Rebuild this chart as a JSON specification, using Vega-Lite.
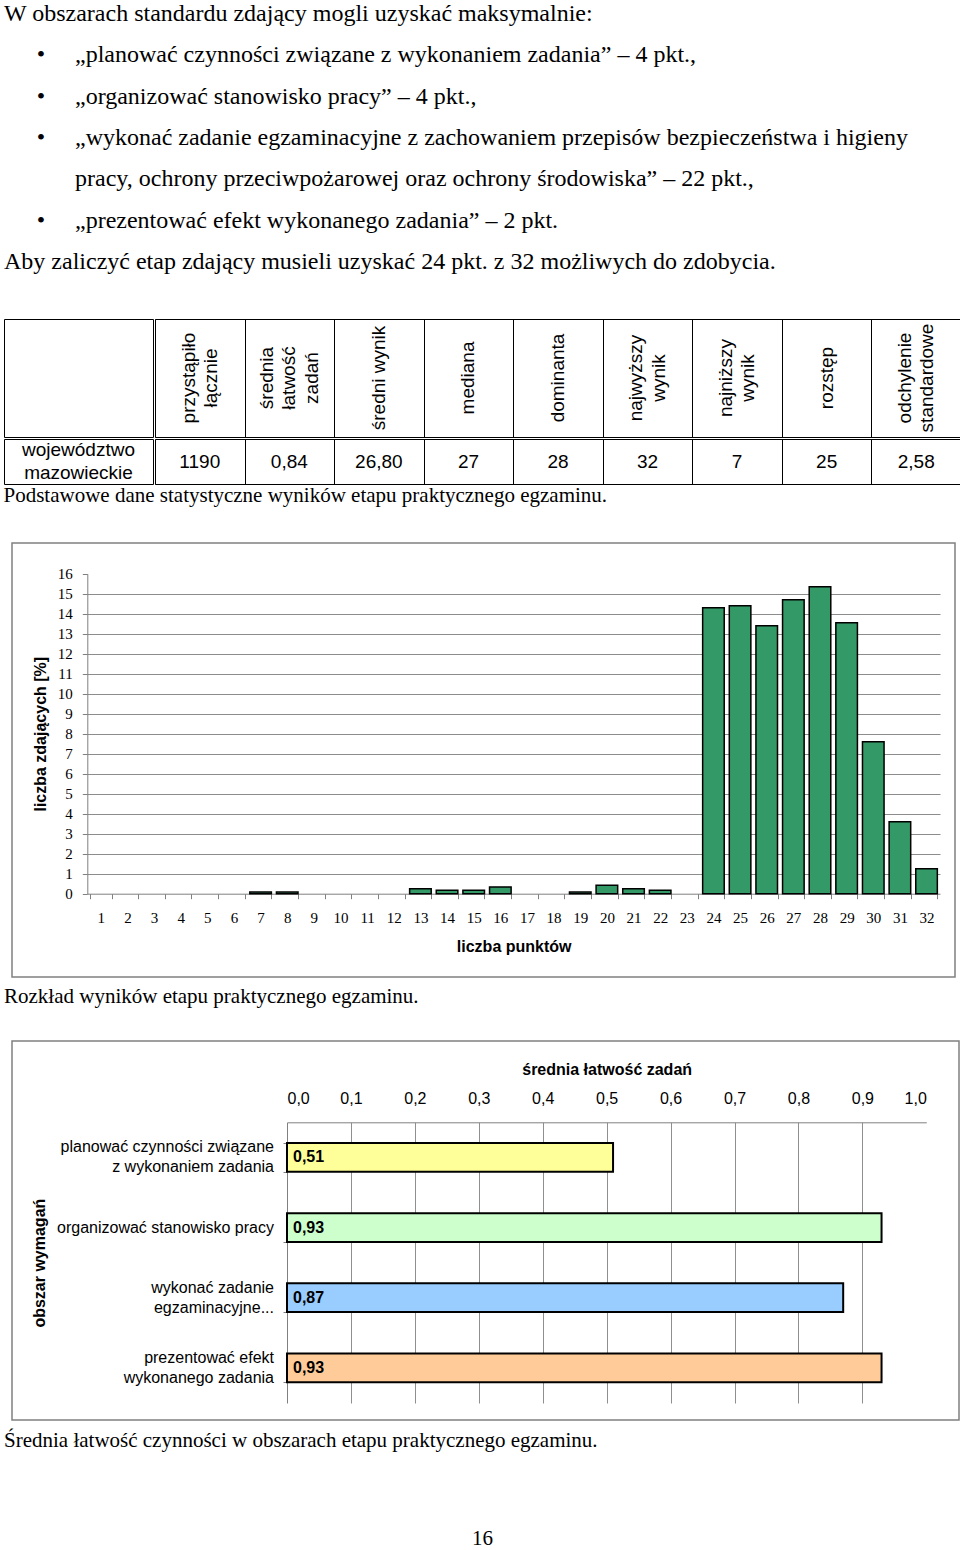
{
  "$schema": "https://vega.github.io/schema/vega-lite/v6.json",
  "padding": {"left": 3, "top": 0, "right": 0, "bottom": 0},
  "background": "white",
  "spacing": 36,
  "title": {"text": "16", "orient": "bottom", "anchor": "middle", "offset": 77, "font": "Liberation Serif", "fontSize": 21, "fontWeight": "normal", "color": "black"},
  "datasets": {
    "intro": [
      {"line": 1, "level": 0, "bullet": false, "text": "W obszarach standardu zdający mogli uzyskać maksymalnie:"},
      {"line": 2, "level": 1, "bullet": true, "text": "„planować czynności związane z wykonaniem zadania” – 4 pkt.,"},
      {"line": 3, "level": 1, "bullet": true, "text": "„organizować stanowisko pracy” – 4 pkt.,"},
      {"line": 4, "level": 1, "bullet": true, "text": "„wykonać zadanie egzaminacyjne z zachowaniem przepisów bezpieczeństwa i higieny"},
      {"line": 5, "level": 1, "bullet": false, "text": "pracy, ochrony przeciwpożarowej oraz ochrony środowiska” – 22 pkt.,"},
      {"line": 6, "level": 1, "bullet": true, "text": "„prezentować efekt wykonanego zadania” – 2 pkt."},
      {"line": 7, "level": 0, "bullet": false, "text": "Aby zaliczyć etap zdający musieli uzyskać 24 pkt. z 32 możliwych do zdobycia."}
    ],
    "region": [{"region": "województwo\nmazowieckie"}],
    "stats": [
      {"stat": "przystąpiło\nłącznie", "value": "1190"},
      {"stat": "średnia\nłatwość\nzadań", "value": "0,84"},
      {"stat": "średni wynik", "value": "26,80"},
      {"stat": "mediana", "value": "27"},
      {"stat": "dominanta", "value": "28"},
      {"stat": "najwyższy\nwynik", "value": "32"},
      {"stat": "najniższy\nwynik", "value": "7"},
      {"stat": "rozstęp", "value": "25"},
      {"stat": "odchylenie\nstandardowe", "value": "2,58"}
    ],
    "hist": [
      {"score": 1, "pct": 0}, {"score": 2, "pct": 0}, {"score": 3, "pct": 0}, {"score": 4, "pct": 0},
      {"score": 5, "pct": 0}, {"score": 6, "pct": 0}, {"score": 7, "pct": 0.08}, {"score": 8, "pct": 0.08},
      {"score": 9, "pct": 0}, {"score": 10, "pct": 0}, {"score": 11, "pct": 0}, {"score": 12, "pct": 0},
      {"score": 13, "pct": 0.25}, {"score": 14, "pct": 0.17}, {"score": 15, "pct": 0.17}, {"score": 16, "pct": 0.34},
      {"score": 17, "pct": 0}, {"score": 18, "pct": 0}, {"score": 19, "pct": 0.08}, {"score": 20, "pct": 0.42},
      {"score": 21, "pct": 0.25}, {"score": 22, "pct": 0.17}, {"score": 23, "pct": 0}, {"score": 24, "pct": 14.3},
      {"score": 25, "pct": 14.4}, {"score": 26, "pct": 13.4}, {"score": 27, "pct": 14.7}, {"score": 28, "pct": 15.35},
      {"score": 29, "pct": 13.55}, {"score": 30, "pct": 7.6}, {"score": 31, "pct": 3.6}, {"score": 32, "pct": 1.25}
    ],
    "areas": [
      {"area": "planować czynności związane\nz wykonaniem zadania", "value": 0.51},
      {"area": "organizować stanowisko pracy", "value": 0.93},
      {"area": "wykonać zadanie\negzaminacyjne...", "value": 0.87},
      {"area": "prezentować efekt\nwykonanego zadania", "value": 0.93}
    ]
  },
  "vconcat": [
    {
      "width": 957,
      "height": 282,
      "data": {"name": "intro"},
      "encoding": {
        "x": {"field": "level", "type": "quantitative", "scale": {"domain": [0, 1], "range": [0, 71]}, "axis": null},
        "y": {"field": "line", "type": "ordinal", "scale": {"type": "point", "padding": 0.411, "align": 0.41}, "axis": null}
      },
      "layer": [
        {
          "mark": {"type": "text", "align": "left", "baseline": "middle", "font": "Liberation Serif", "fontSize": 24, "color": "black"},
          "encoding": {"text": {"field": "text"}}
        },
        {
          "transform": [{"filter": "datum.bullet"}],
          "mark": {"type": "text", "text": "•", "align": "center", "baseline": "middle", "dx": -34, "font": "Liberation Serif", "fontSize": 24, "color": "black"}
        }
      ]
    },
    {
      "columns": 2,
      "spacing": 0,
      "title": {"text": "Podstawowe dane statystyczne wyników etapu praktycznego egzaminu.", "orient": "bottom", "anchor": "start", "offset": 0, "font": "Liberation Serif", "fontSize": 21, "fontWeight": "normal", "color": "black"},
      "concat": [
        {
          "width": 149, "height": 118,
          "view": {"stroke": "black", "strokeWidth": 1},
          "data": {"name": "region"},
          "mark": {"type": "text", "text": ""}
        },
        {
          "width": 806, "height": 118,
          "view": {"stroke": "black", "strokeWidth": 1},
          "data": {"name": "stats"},
          "transform": [{"calculate": "length(split(datum.stat, '\\n'))", "as": "lines"}],
          "encoding": {
            "x": {"field": "stat", "type": "nominal",
                  "sort": ["przystąpiło\nłącznie", "średnia\nłatwość\nzadań", "średni wynik", "mediana", "dominanta", "najwyższy\nwynik", "najniższy\nwynik", "rozstęp", "odchylenie\nstandardowe"],
                  "scale": {"paddingInner": 0, "paddingOuter": 0},
                  "axis": {"title": null, "labels": false, "ticks": false, "domain": false, "grid": true, "tickBand": "extent", "gridColor": "black", "gridOpacity": 1, "gridWidth": 1}},
            "text": {"field": "stat"}
          },
          "layer": [
            {
              "transform": [{"filter": "datum.lines === 1"}],
              "mark": {"type": "text", "angle": 270, "align": "center", "baseline": "middle", "fontSize": 19, "lineHeight": 22.5, "color": "black"}
            },
            {
              "transform": [{"filter": "datum.lines === 2"}],
              "mark": {"type": "text", "angle": 270, "align": "center", "baseline": "middle", "dy": -11.25, "fontSize": 19, "lineHeight": 22.5, "color": "black"}
            },
            {
              "transform": [{"filter": "datum.lines === 3"}],
              "mark": {"type": "text", "angle": 270, "align": "center", "baseline": "middle", "dy": -22.5, "fontSize": 19, "lineHeight": 22.5, "color": "black"}
            }
          ]
        },
        {
          "width": 149, "height": 45,
          "view": {"stroke": "black", "strokeWidth": 1},
          "data": {"name": "region"},
          "mark": {"type": "text", "align": "center", "baseline": "middle", "dy": -11.5, "fontSize": 19, "lineHeight": 23, "color": "black"},
          "encoding": {"text": {"field": "region"}}
        },
        {
          "width": 806, "height": 45,
          "view": {"stroke": "black", "strokeWidth": 1},
          "data": {"name": "stats"},
          "mark": {"type": "text", "align": "center", "baseline": "middle", "fontSize": 19, "color": "black"},
          "encoding": {
            "x": {"field": "stat", "type": "nominal",
                  "sort": ["przystąpiło\nłącznie", "średnia\nłatwość\nzadań", "średni wynik", "mediana", "dominanta", "najwyższy\nwynik", "najniższy\nwynik", "rozstęp", "odchylenie\nstandardowe"],
                  "scale": {"paddingInner": 0, "paddingOuter": 0},
                  "axis": {"title": null, "labels": false, "ticks": false, "domain": false, "grid": true, "tickBand": "extent", "gridColor": "black", "gridOpacity": 1, "gridWidth": 1}},
            "text": {"field": "value"}
          }
        }
      ]
    },
    {
      "spacing": 33,
      "vconcat": [
        {
          "spacing": 0,
          "title": {"text": "Rozkład wyników etapu praktycznego egzaminu.", "orient": "bottom", "anchor": "start", "offset": 8, "font": "Liberation Serif", "fontSize": 21, "fontWeight": "normal", "color": "black"},
          "hconcat": [
            {"width": 7, "height": 10, "data": {"values": [{"s": 1}]}, "mark": {"type": "text", "text": ""}},
            {
              "width": 943, "height": 434,
              "view": {"stroke": "#808080", "strokeWidth": 1.5},
              "data": {"name": "hist"},
              "mark": {"type": "bar", "fill": "#339966", "stroke": "black", "strokeWidth": 1.5},
              "encoding": {
                "x": {"field": "score", "type": "ordinal",
                      "scale": {"range": [75.3, 928], "paddingInner": 0.19, "paddingOuter": 0.1},
                      "axis": {"orient": "bottom", "offset": -83.3, "labelAngle": 0, "labelFont": "Liberation Serif", "labelFontSize": 15, "labelPadding": 12, "tickSize": 5, "tickBand": "extent", "grid": false,
                               "title": "liczba punktów", "titleFont": "Liberation Sans", "titleFontSize": 16, "titleFontWeight": "bold", "titlePadding": 13}},
                "y": {"field": "pct", "type": "quantitative",
                      "scale": {"domain": [0, 16], "range": [350.7, 30.7], "nice": false},
                      "axis": {"orient": "left", "offset": -75.3, "values": [0, 1, 2, 3, 4, 5, 6, 7, 8, 9, 10, 11, 12, 13, 14, 15, 16], "labelFont": "Liberation Serif", "labelFontSize": 15, "labelPadding": 10, "tickSize": 5,
                               "title": "liczba zdających [%]", "titleFont": "Liberation Sans", "titleFontSize": 16, "titleFontWeight": "bold", "titlePadding": 9,
                               "grid": true, "gridColor": "#8c8c8c", "gridOpacity": {"condition": {"test": "datum.value === 0 || datum.value === 16", "value": 0}, "value": 1}}},
                "strokeOpacity": {"condition": {"test": "datum.pct === 0", "value": 0}, "value": 1}
              }
            }
          ]
        },
        {
          "spacing": 0,
          "title": {"text": "Średnia łatwość czynności w obszarach etapu praktycznego egzaminu.", "orient": "bottom", "anchor": "start", "offset": 9, "font": "Liberation Serif", "fontSize": 21, "fontWeight": "normal", "color": "black"},
          "hconcat": [
            {"width": 7, "height": 10, "data": {"values": [{"s": 1}]}, "mark": {"type": "text", "text": ""}},
            {
              "width": 947, "height": 379,
              "view": {"stroke": "#808080", "strokeWidth": 1.5},
              "data": {"name": "areas"},
              "transform": [
                {"calculate": "replace(format(datum.value, '.2f'), '.', ',')", "as": "label"},
                {"calculate": "length(split(datum.area, '\\n'))", "as": "lines"}
              ],
              "encoding": {
                "y": {"field": "area", "type": "nominal",
                      "sort": ["planować czynności związane\nz wykonaniem zadania", "organizować stanowisko pracy", "wykonać zadanie\negzaminacyjne...", "prezentować efekt\nwykonanego zadania"],
                      "scale": {"range": [81.3, 362], "paddingInner": 0.59, "paddingOuter": 0.295},
                      "axis": {"orient": "left", "offset": -275, "labels": false, "tickSize": 4, "tickBand": "extent", "grid": false,
                               "title": "obszar wymagań", "titleFontSize": 16, "titleFontWeight": "bold", "titlePadding": 235}}
              },
              "layer": [
                {
                  "mark": {"type": "bar", "stroke": "black", "strokeWidth": 2},
                  "encoding": {
                    "x": {"field": "value", "type": "quantitative",
                          "scale": {"domain": [0, 1], "range": [275, 914.3], "nice": false},
                          "axis": {"orient": "top", "offset": -81.3, "values": [0, 0.1, 0.2, 0.3, 0.4, 0.5, 0.6, 0.7, 0.8, 0.9, 1], "labelExpr": "replace(format(datum.value, '.1f'), '.', ',')", "labelFontSize": 16, "labelPadding": 16, "ticks": false,
                                   "title": "średnia łatwość zadań", "titleFontSize": 16, "titleFontWeight": "bold", "titlePadding": 13,
                                   "grid": true, "gridColor": "#8f8f8f", "gridOpacity": {"condition": {"test": "datum.value === 0 || datum.value === 1", "value": 0}, "value": 1}}},
                    "color": {"field": "area", "type": "nominal",
                              "sort": ["planować czynności związane\nz wykonaniem zadania", "organizować stanowisko pracy", "wykonać zadanie\negzaminacyjne...", "prezentować efekt\nwykonanego zadania"],
                              "scale": {"range": ["#FFFF99", "#CCFFCC", "#99CCFF", "#FFCC99"]}, "legend": null}
                  }
                },
                {
                  "mark": {"type": "text", "align": "left", "baseline": "middle", "dx": 6, "fontSize": 16, "fontWeight": "bold", "color": "black"},
                  "encoding": {"x": {"datum": 0}, "text": {"field": "label"}}
                },
                {
                  "transform": [{"filter": "datum.lines === 1"}],
                  "mark": {"type": "text", "align": "right", "baseline": "middle", "dx": -13, "fontSize": 16, "lineHeight": 20, "color": "black"},
                  "encoding": {"x": {"datum": 0}, "text": {"field": "area"}}
                },
                {
                  "transform": [{"filter": "datum.lines === 2"}],
                  "mark": {"type": "text", "align": "right", "baseline": "middle", "dx": -13, "dy": -10, "fontSize": 16, "lineHeight": 20, "color": "black"},
                  "encoding": {"x": {"datum": 0}, "text": {"field": "area"}}
                }
              ]
            }
          ]
        }
      ]
    }
  ],
  "config": {
    "font": "Liberation Sans",
    "view": {"stroke": null},
    "text": {"lineBreak": "\n"},
    "axis": {"labelColor": "black", "titleColor": "black", "domainColor": "#808080", "tickColor": "#808080"}
  }
}
